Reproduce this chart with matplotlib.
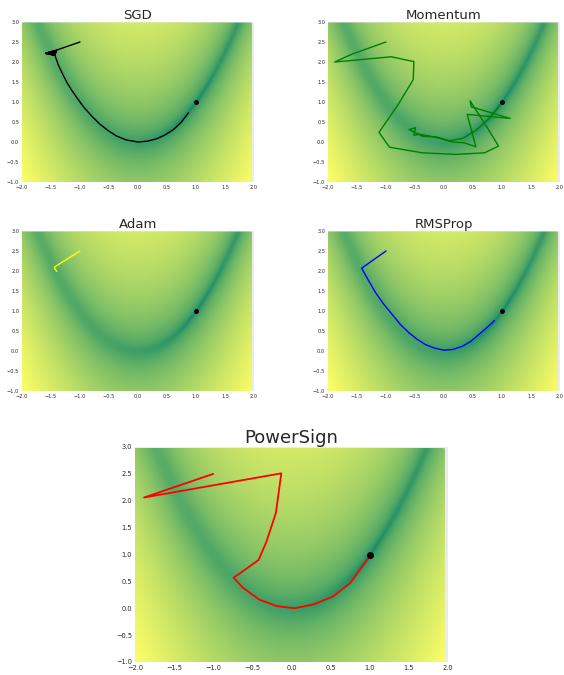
import numpy as np
import matplotlib
matplotlib.use("Agg")
import matplotlib.pyplot as plt
import matplotlib.colors as mcolors
import seaborn as sns

sns.set_style("dark")
plt.rcParams['font.family'] = ['DejaVu Sans']

# optimiser paths (x, y)
sgd_x = [-1.0, -1.40, -1.59, -1.40, -1.59, -1.41, -1.58, -1.41, -1.58, -1.42, -1.57, -1.42,
         -1.56, -1.43, -1.55, -1.43, -1.53, -1.44, -1.50, -1.43, -1.38, -1.31, -1.23, -1.15,
         -1.05, -0.94, -0.80, -0.66, -0.52, -0.37, -0.20, 0.0, 0.16, 0.32, 0.47, 0.61, 0.75, 0.87]
sgd_y = [2.5, 2.30, 2.22, 2.29, 2.21, 2.27, 2.22, 2.25, 2.21, 2.23, 2.21, 2.21,
         2.20, 2.20, 2.20, 2.18, 2.20, 2.17, 2.19, 2.16, 1.95, 1.73, 1.50, 1.31,
         1.10, 0.88, 0.65, 0.45, 0.29, 0.15, 0.05, 0.0, 0.02, 0.08, 0.18, 0.31, 0.50, 0.73]

mom_x = [-1.0, -1.58, -1.885, -0.91, -0.52, -0.53, -0.78, -1.12, -0.94, -0.37, 0.20, 0.70,
         0.94, 0.75, 0.45, 0.47, 1.14, 0.40, 0.55, 0.35, 0.15, -0.15, -0.45, -0.60, -0.49,
         -0.52, -0.43, -0.37, -0.14, 0.09, 0.32, 0.55, 0.78, 1.0]
mom_y = [2.5, 2.2, 2.0, 2.13, 2.01, 1.56, 0.96, 0.24, -0.13, -0.27, -0.31, -0.27,
         -0.10, 0.35, 1.03, 0.88, 0.59, 0.69, -0.12, -0.02, 0.0, 0.12, 0.20, 0.31, 0.36,
         0.17, 0.19, 0.14, 0.13, 0.03, 0.09, 0.29, 0.59, 0.99]

adam_x = [-1.0, -1.44, -1.43, -1.40]
adam_y = [2.5, 2.10, 2.05, 1.99]

rms_x = [-1.0, -1.42, -1.30, -1.18, -1.04, -0.89, -0.75, -0.60, -0.46, -0.32, -0.16, 0.0,
         0.16, 0.32, 0.46, 0.60, 0.75, 0.87]
rms_y = [2.5, 2.07, 1.76, 1.46, 1.17, 0.91, 0.66, 0.45, 0.29, 0.16, 0.07, 0.02,
         0.04, 0.12, 0.24, 0.41, 0.60, 0.76]

ps_x = [-1.0, -1.885, -0.13, -0.20, -0.32, -0.42, -0.62, -0.74, -0.62, -0.41, -0.19, 0.04,
        0.28, 0.53, 0.75, 0.98]
ps_y = [2.5, 2.06, 2.51, 1.77, 1.24, 0.90, 0.69, 0.57, 0.38, 0.16, 0.04, 0.0,
        0.07, 0.22, 0.47, 0.93]

minimum = (1.0, 1.0)

# Rosenbrock surface for the background
xs = np.linspace(-2, 1.95, 400)
ys = np.linspace(-1, 2.97, 400)
X, Y = np.meshgrid(xs, ys)
Z = (1 - X) ** 2 + 100 * (Y - X ** 2) ** 2

fig = plt.figure(figsize=(5.64, 6.75), dpi=100)
W, H = 564.0, 675.0


def panel(box, px, py, color, title, small=True):
    l, t, r, b = box
    ax = fig.add_axes([l / W, 1 - b / H, (r - l) / W, (b - t) / H])
    ax.pcolormesh(X, Y, Z, shading='gouraud', cmap='summer',
                  norm=mcolors.PowerNorm(gamma=0.18, vmin=0, vmax=2509))
    lw = 1.0 if small else 1.3
    ax.plot(px, py, color=color, lw=lw)
    ax.plot(minimum[0], minimum[1], 'o', color='black', ms=2.5 if small else 4)
    ax.set_xlim(-2, 2)
    ax.set_ylim(-1, 3)
    ax.grid(False)
    fs = 3.6 if small else 4.8
    ax.tick_params(labelsize=fs, pad=2, length=0)
    ax.set_xticks(np.arange(-2, 2.01, 0.5))
    ax.set_yticks(np.arange(-1, 3.01, 0.5))
    ax.set_title(title, fontsize=9.5 if small else 13, pad=2 if small else 3)
    for s in ax.spines.values():
        s.set_visible(False)
    return ax


panel((22, 22, 254, 182), sgd_x, sgd_y, 'black', 'SGD')
panel((328, 22, 560, 182), mom_x, mom_y, 'green', 'Momentum')
panel((22, 231, 254, 391), adam_x, adam_y, 'yellow', 'Adam')
panel((328, 231, 560, 391), rms_x, rms_y, 'blue', 'RMSProp')
panel((135, 447, 448, 662), ps_x, ps_y, 'red', 'PowerSign', small=False)

plt.savefig('out.png', dpi=100)
